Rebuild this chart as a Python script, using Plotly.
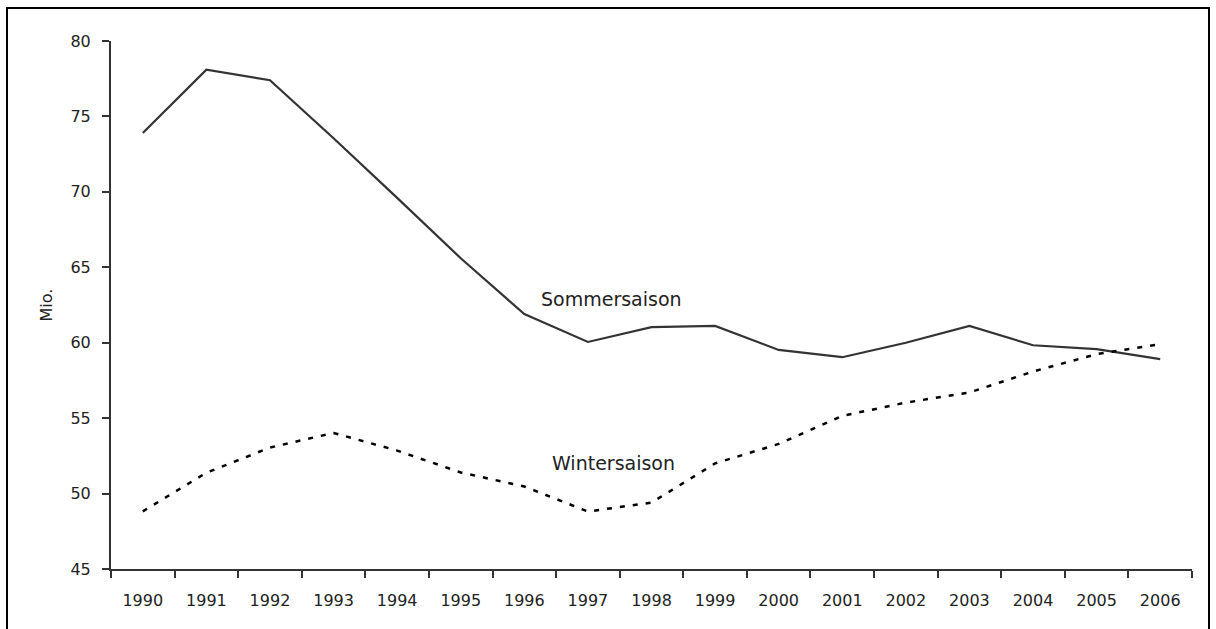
import plotly.graph_objects as go

years = [str(y) for y in range(1990, 2007)]
sommer = [73.9, 78.1, 77.4, 73.55, 69.6, 65.6, 61.9, 60.05, 61.03, 61.11, 59.52,
          59.04, 60.0, 61.11, 59.83, 59.57, 58.91]
winter = [48.82, 51.38, 53.05, 54.02, 52.85, 51.4, 50.47, 48.81, 49.4, 52.0, 53.29,
          55.15, 56.03, 56.7, 58.09, 59.24, 59.9]
y_ticks = [45, 50, 55, 60, 65, 70, 75, 80]

FONT = "DejaVu Sans"
TXT = "#222222"
W, H = 1216, 629
L, R, T, B = 111, 24, 41, 60
pw, ph = W - L - R, H - T - B


def px_x(p):
    return (p - L) / pw


def px_y(p):
    return (H - B - p) / ph


fig = go.Figure()
fig.add_trace(go.Scatter(x=years, y=sommer, mode="lines", name="Sommersaison",
                         line=dict(color="#333333", width=2.2)))
fig.add_trace(go.Scatter(x=years, y=winter, mode="lines", name="Wintersaison",
                         line=dict(color="#000000", width=2.5, dash="5px,8px")))

fig.add_annotation(text="Sommersaison", xref="paper", yref="y",
                   x=px_x(539), y=62.9, xanchor="left", yanchor="middle",
                   showarrow=False, font=dict(family=FONT, size=19, color=TXT))
fig.add_annotation(text="Wintersaison", xref="paper", yref="y",
                   x=px_x(550), y=52.0, xanchor="left", yanchor="middle",
                   showarrow=False, font=dict(family=FONT, size=19, color=TXT))

# outer frame
fig.add_shape(type="rect", xref="paper", yref="paper",
              x0=px_x(7), x1=px_x(1209), y0=px_y(650), y1=px_y(8),
              line=dict(color="black", width=2), fillcolor="rgba(0,0,0,0)")

fig.update_layout(
    width=W, height=H,
    margin=dict(l=L, r=R, t=T, b=B),
    paper_bgcolor="white", plot_bgcolor="white",
    showlegend=False,
    font=dict(family=FONT, size=16, color=TXT),
)
fig.update_xaxes(type="category", range=[-0.5, 16.5], tickson="boundaries",
                 showline=True, linecolor="#333333", linewidth=2,
                 ticks="outside", ticklen=7, tickwidth=2, tickcolor="#333333",
                 showgrid=False, zeroline=False, ticklabelstandoff=16,
                 tickfont=dict(family=FONT, size=16, color=TXT))
fig.update_yaxes(range=[45, 80], tickvals=y_ticks,
                 showline=True, linecolor="#333333", linewidth=2,
                 ticks="outside", ticklen=7, tickwidth=2, tickcolor="#333333",
                 showgrid=False, zeroline=False, ticklabelstandoff=8,
                 tickfont=dict(family=FONT, size=16, color=TXT),
                 title=dict(text="Mio.", standoff=14,
                            font=dict(family=FONT, size=16, color=TXT)))

fig.write_html("out.html", config={"displayModeBar": False},
               post_script="document.body.style.margin='0px';document.body.style.overflow='hidden';")
